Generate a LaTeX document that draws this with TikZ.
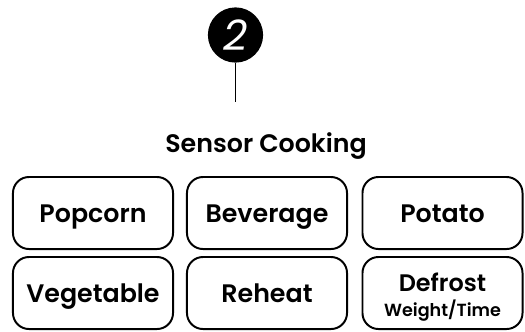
\documentclass[tikz,border=0pt]{standalone}
\usepackage{fontspec}
\setmainfont{Poppins}[BoldFont={Poppins SemiBold}]
\tikzset{
	key/.style={draw, line width=1.4pt, rounded corners=0.4cm, minimum width=4cm, minimum height=1.8cm, inner sep=0pt, align=center, text height=14.2pt, text depth=0pt, font=\fontsize{18}{18}\selectfont\bfseries},
	badge/.style={circle, fill=black, minimum size=1.38cm, inner sep=0pt, text=white, font=\fontsize{30}{30}\selectfont\itshape}
}
\begin{document}
\begin{tikzpicture}[x=0.025cm, y=-0.025cm]
	\useasboundingbox (0,0) rectangle (525,331);
	\node[badge] (two) at (235.5,35) {2};
	\coordinate (tail) at (235.5,102);
	\draw[line width=1.4pt] (two) -- (tail);
	
	\node[font=\fontsize{18}{18}\selectfont\bfseries, anchor=base] (title) at (266,152) {Sensor Cooking};
	
	\node[key] (popcorn) at (93,213) {Popcorn};
	\node[key] (beverage) at (267,213) {Beverage};
	\node[key] (potato) at (442.5,213) {Potato};
	
	\node[key] (vegetable) at (93,293) {Vegetable};
	\node[key] (reheat) at (267,293) {Reheat};
	\node[key, text height=34pt, text depth=0pt] (defrost) at (442.5,293) {{\fontsize{17}{17}\selectfont Defrost}\\[0pt]{\fontsize{12.5}{13}\selectfont Weight/Time}};
\end{tikzpicture}
\end{document}
